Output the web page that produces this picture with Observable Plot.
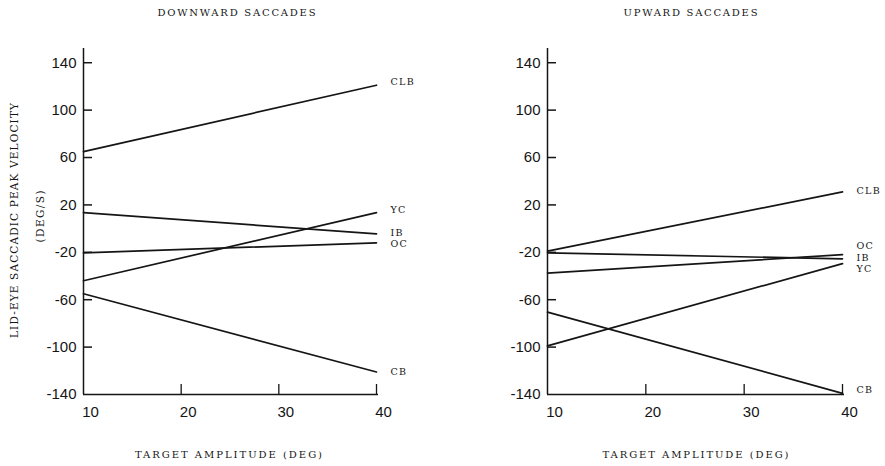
<!DOCTYPE html>
<html><head><meta charset="utf-8">
<script src="https://cdn.jsdelivr.net/npm/d3@7"></script>
<script src="https://cdn.jsdelivr.net/npm/@observablehq/plot@0.6"></script>
<style>
body{margin:0;background:#fff;}
#wrap{position:relative;width:885px;height:466px;display:flex;}
#wrap svg{display:block;}
</style></head><body><div id="wrap"></div>
<script>
// Data
const amplitudes = [10, 40];                       // target amplitude (deg), line endpoints
const series = ["CLB", "YC", "IB", "OC", "CB"];    // subjects
const downStart = [65, -44, 13.5, -20.5, -55];     // downward saccades, value at 10 deg
const downEnd   = [121, 13.5, -4.5, -12, -121];    // downward saccades, value at 40 deg
const upStart   = [-19, -99, -20.5, -37.5, -70.5]; // upward saccades, value at 10 deg
const upEnd     = [31, -29.5, -25.5, -22, -139];   // upward saccades, value at 40 deg
const downLabelAt = [124, 16, -4, -13, -121];      // where each name sits (value units)
const upLabelAt   = [32, -34, -25, -15, -136.5];
const yTicks = [-140, -100, -60, -20, 20, 60, 100, 140];
const yTickMarks = [-100, -60, -20, 20, 60, 100, 140];
const xTicks = [10, 20, 30, 40];
const xTickMarks = [20, 30, 40];
const yDomain = [-140, 152];
const titles = ["DOWNWARD SACCADES", "UPWARD SACCADES"];
const xLabel = "TARGET AMPLITUDE (DEG)";
const yLabel = ["LID-EYE SACCADIC PEAK VELOCITY", "(DEG/S)"];

const ink = "#151515";
const serif = "'DejaVu Serif', 'Liberation Serif', serif";
const sans = "'Liberation Sans', Arial, sans-serif";

function rows(start, end) {
  return series.flatMap((s, i) => [
    {s, x: amplitudes[0], y: start[i]},
    {s, x: amplitudes[1], y: end[i]}
  ]);
}

function panel({width, marginLeft, marginRight, start, end, labelAt, title, titleDx, titleLen, xLabelDx, xLabelLen, yLab}) {
  const H = 466, mt = 48, mb = 72;
  const fw = width - marginLeft - marginRight;
  const fh = H - mt - mb;
  const fmt = d => String(d);
  const marks = [
    Plot.ruleX([amplitudes[0]], {stroke: ink, strokeWidth: 1.5}),
    Plot.ruleY([yTicks[0]], {stroke: ink, strokeWidth: 1.5, insetRight: -2}),
    Plot.ruleY(yTickMarks, {y: d => d, insetRight: fw - 9, stroke: ink, strokeWidth: 1.5}),
    Plot.ruleX(xTickMarks, {x: d => d, insetTop: fh - 10, stroke: ink, strokeWidth: 1.3}),
    Plot.axisY({ticks: yTicks, tickFormat: fmt, tickSize: 0, tickPadding: 7, fontSize: 15, fontFamily: sans, fill: ink, label: null}),
    Plot.axisX({ticks: xTicks, tickFormat: fmt, tickSize: 0, tickPadding: 12, dx: 7, fontSize: 15, fontFamily: sans, fill: ink, label: null}),
    Plot.line(rows(start, end), {x: "x", y: "y", z: "s", stroke: ink, strokeWidth: 1.7}),
    Plot.text(series, {x: () => amplitudes[1], y: (d, i) => labelAt[i], text: d => d, dx: 14, textAnchor: "start",
      fontSize: 9.5, fontFamily: serif, fill: ink}),
    Plot.text([title], {frameAnchor: "top", text: d => d, textAnchor: "middle", lineAnchor: "middle",
      dx: titleDx, dy: -36, fontSize: 10, fontFamily: serif, fill: ink}),
    Plot.text([xLabel], {frameAnchor: "bottom", text: d => d, textAnchor: "middle", lineAnchor: "middle",
      dx: xLabelDx, dy: 60, fontSize: 10, fontFamily: serif, fill: ink})
  ];
  if (yLab) {
    marks.push(
      Plot.text([yLabel[0]], {frameAnchor: "left", text: d => d, rotate: -90, textAnchor: "middle", lineAnchor: "middle",
        dx: 14 - marginLeft, dy: -1, fontSize: 10.5, fontFamily: serif, fill: ink}),
      Plot.text([yLabel[1]], {frameAnchor: "left", text: d => d, rotate: -90, textAnchor: "middle", lineAnchor: "middle",
        dx: 40 - marginLeft, dy: -5, fontSize: 10.5, fontFamily: serif, fill: ink})
    );
  }
  const svg = Plot.plot({
    width, height: H, marginLeft, marginRight, marginTop: mt, marginBottom: mb,
    x: {domain: [amplitudes[0], amplitudes[1]]},
    y: {domain: yDomain},
    style: {background: "#fff", color: ink},
    marks
  });
  const s = d3.select(svg);
  const byText = str => s.selectAll("text").filter(function () { return this.textContent === str; });
  const stretch = (str, len) => byText(str).attr("textLength", len).attr("lengthAdjust", "spacing");
  stretch(title, titleLen);
  stretch(xLabel, xLabelLen);
  stretch(yLabel[0], 235);
  stretch(yLabel[1], 52);
  series.forEach(n => byText(n).attr("letter-spacing", "1.3px"));
  return svg;
}

const wrap = document.getElementById("wrap");
wrap.append(panel({width: 442, marginLeft: 83, marginRight: 66, start: downStart, end: downEnd, labelAt: downLabelAt,
  title: titles[0], titleDx: 6.5, titleLen: 158, xLabelDx: -1.5, xLabelLen: 187, yLab: true}));
wrap.append(panel({width: 443, marginLeft: 105, marginRight: 43, start: upStart, end: upEnd, labelAt: upLabelAt,
  title: titles[1], titleDx: -4.5, titleLen: 134, xLabelDx: 0.5, xLabelLen: 186, yLab: false}));
</script>
</body></html>
